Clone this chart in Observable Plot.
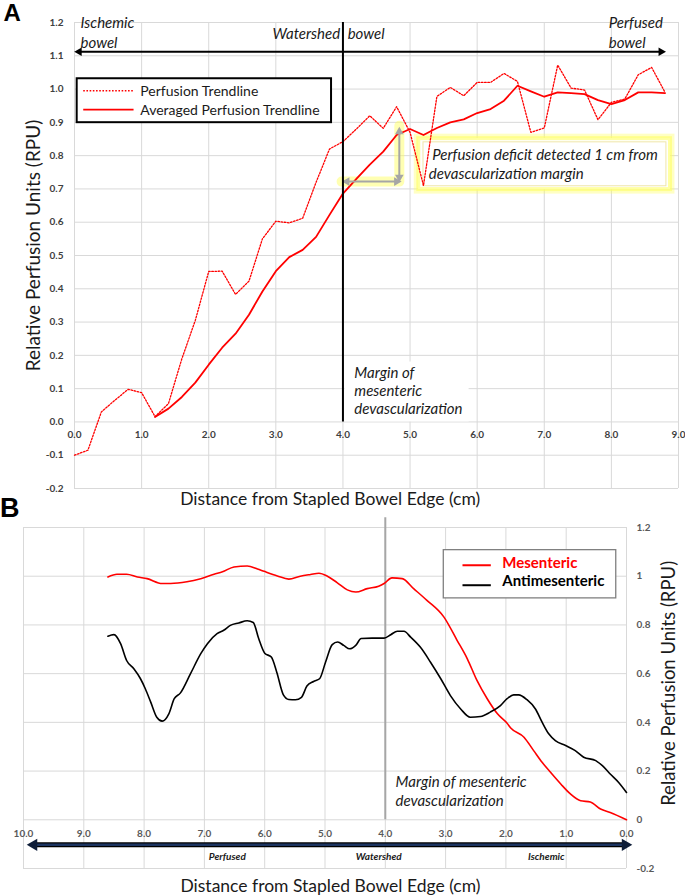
<!DOCTYPE html>
<html><head><meta charset="utf-8">
<script src="https://cdn.jsdelivr.net/npm/d3@7"></script>
<script src="https://cdn.jsdelivr.net/npm/@observablehq/plot@0.6"></script>
<style>
body{margin:0;background:#fff;}
#chart{width:685px;height:896px;position:relative;overflow:hidden;}
#chart svg{display:block;}
</style></head><body><div id="chart"></div>
<script>
// ---------- Panel A data ----------
const distA = [0.0,0.2,0.4,0.6,0.8,1.0,1.2,1.4,1.6,1.8,2.0,2.2,2.4,2.6,2.8,3.0,3.2,3.4,3.6,3.8,4.0,4.2,4.4,4.6,4.8,5.0,5.2,5.4,5.6,5.8,6.0,6.2,6.4,6.6,6.8,7.0,7.2,7.4,7.6,7.8,8.0,8.2,8.4,8.6,8.8];
const perfusionA = [-0.100,-0.085,0.030,0.065,0.098,0.088,0.016,0.055,0.190,0.305,0.452,0.453,0.383,0.423,0.550,0.603,0.598,0.612,0.720,0.820,0.842,0.880,0.920,0.882,0.947,0.870,0.710,0.978,1.005,0.980,1.020,1.020,1.047,1.023,0.870,0.883,1.072,1.003,0.997,0.908,0.960,0.970,1.043,1.065,0.990];
const distAvgA = [1.2,1.4,1.6,1.8,2.0,2.2,2.4,2.6,2.8,3.0,3.2,3.4,3.6,3.8,4.0,4.2,4.4,4.6,4.8,5.0,5.2,5.4,5.6,5.8,6.0,6.2,6.4,6.6,6.8,7.0,7.2,7.4,7.6,7.8,8.0,8.2,8.4,8.6,8.8];
const averagedA = [0.015,0.040,0.075,0.118,0.172,0.223,0.265,0.322,0.392,0.453,0.495,0.517,0.556,0.622,0.686,0.730,0.773,0.812,0.862,0.880,0.862,0.883,0.900,0.909,0.928,0.940,0.965,1.010,0.993,0.977,0.990,0.988,0.985,0.967,0.955,0.967,0.990,0.990,0.988];
const xTicksA = [0,1,2,3,4,5,6,7,8,9];
const yTicksA = [-0.2,-0.1,0.0,0.1,0.2,0.3,0.4,0.5,0.6,0.7,0.8,0.9,1.0,1.1,1.2];
const seriesNamesA = ["Perfusion Trendline","Averaged Perfusion Trendline"];

// ---------- Panel B data ----------
const distMesB = [8.60,8.45,8.29,8.11,7.95,7.70,7.56,7.29,7.06,6.84,6.70,6.51,6.29,6.12,6.01,5.79,5.60,5.41,5.24,5.10,4.96,4.80,4.63,4.49,4.30,4.11,4.02,3.89,3.72,3.53,3.31,3.03,2.81,2.64,2.48,2.31,2.14,1.98,1.92,1.70,1.54,1.40,1.26,1.09,0.93,0.76,0.60,0.43,0.27,0.00];
const mesentericB = [0.997,1.008,1.008,0.997,0.990,0.970,0.970,0.977,0.990,1.008,1.018,1.038,1.042,1.030,1.020,1.001,0.988,1.000,1.007,1.012,1.000,0.974,0.944,0.935,0.949,0.959,0.970,0.993,0.990,0.949,0.901,0.833,0.737,0.661,0.572,0.497,0.435,0.396,0.377,0.339,0.284,0.236,0.195,0.147,0.106,0.078,0.073,0.044,0.030,0.000];
const distAntiB = [8.60,8.50,8.39,8.29,8.17,8.06,7.98,7.89,7.79,7.70,7.59,7.50,7.40,7.23,7.06,6.95,6.79,6.68,6.57,6.43,6.29,6.19,6.10,6.00,5.89,5.80,5.69,5.60,5.49,5.39,5.30,5.19,5.09,4.99,4.88,4.79,4.69,4.59,4.49,4.40,4.22,4.02,3.91,3.80,3.69,3.58,3.42,3.25,3.08,2.92,2.75,2.59,2.42,2.26,2.09,1.98,1.87,1.79,1.65,1.51,1.40,1.29,1.18,1.01,0.85,0.71,0.51,0.40,0.27,0.13,0.00];
const antimesentericB = [0.754,0.760,0.723,0.654,0.620,0.579,0.538,0.483,0.421,0.405,0.435,0.497,0.520,0.600,0.682,0.723,0.764,0.778,0.798,0.808,0.817,0.810,0.744,0.684,0.668,0.606,0.513,0.494,0.493,0.503,0.549,0.568,0.579,0.648,0.719,0.730,0.716,0.702,0.716,0.744,0.746,0.746,0.760,0.774,0.774,0.750,0.709,0.647,0.579,0.510,0.455,0.421,0.424,0.442,0.469,0.497,0.513,0.513,0.493,0.455,0.401,0.353,0.325,0.305,0.284,0.257,0.243,0.222,0.188,0.153,0.112];
const xTicksB = [10,9,8,7,6,5,4,3,2,1,0];
const yTicksB = [1.2,1.0,0.8,0.6,0.4,0.2,0.0,-0.2];
const yTickLabelsB = ["1.2","1","0.8","0.6","0.4","0.2","0","-0.2"];
const seriesNamesB = ["Mesenteric","Antimesenteric"];
const zoneNamesB = ["Perfused","Watershed","Ischemic"];

const FONT = "Lato, 'Open Sans', sans-serif";
const RED = "#ff0000";
const tri = (pts, rot, r, fill) => Plot.dot(pts, {x:"x", y:"y", symbol:"triangle", r, fill, stroke:null, rotate: rot});

// ---------- Panel A ----------
const annA = [
  {t:"Ischemic", x:0.09, y:1.199}, {t:"bowel", x:0.09, y:1.139},
  {t:"Watershed", x:2.95, y:1.166}, {t:"bowel", x:4.07, y:1.166},
  {t:"Perfused", x:7.96, y:1.199}, {t:"bowel", x:7.96, y:1.139},
  {t:"Margin of", x:4.17, y:0.145}, {t:"mesenteric", x:4.17, y:0.091}, {t:"devascularization", x:4.17, y:0.037},
  {t:"Perfusion deficit detected 1 cm from", x:5.33, y:0.800}, {t:"devascularization margin", x:5.28, y:0.743}
];
const plotA = Plot.plot({
  width: 685, height: 510,
  marginLeft: 74, marginRight: 7, marginTop: 22, marginBottom: 22,
  x: {domain: [0, 9], axis: null},
  y: {domain: [-0.2, 1.2], axis: null},
  style: {fontFamily: FONT, background: "transparent", overflow: "visible"},
  marks: [
    Plot.gridX(xTicksA, {stroke: "#d9d9d9", strokeOpacity: 1}),
    Plot.gridY(yTicksA, {stroke: "#d9d9d9", strokeOpacity: 1}),
    // white box behind margin label
    Plot.rect([{x1:4.03, x2:5.88, y1:0.0, y2:0.18}], {x1:"x1", x2:"x2", y1:"y1", y2:"y2", fill:"white"}),
    // highlighted text box
    Plot.rect([{x1:5.13, x2:8.88, y1:0.698, y2:0.851}], {x1:"x1", x2:"x2", y1:"y1", y2:"y2", fill:"white", stroke:"#ffff55", strokeWidth:9, strokeOpacity:0.35}),
    Plot.rect([{x1:5.13, x2:8.88, y1:0.698, y2:0.851}], {x1:"x1", x2:"x2", y1:"y1", y2:"y2", fill:"white", stroke:"#ffff66", strokeWidth:4, strokeOpacity:0.6}),
    Plot.rect([{x1:5.2, x2:8.82, y1:0.708, y2:0.840}], {x1:"x1", x2:"x2", y1:"y1", y2:"y2", fill:"white", stroke:"#efe6a8", strokeWidth:1}),
    // L-shaped highlight glow
    Plot.line([{x:3.98,y:0.722},{x:4.84,y:0.722},{x:4.84,y:0.89}], {x:"x", y:"y", stroke:"#ffff55", strokeWidth:10, strokeOpacity:0.45}),
    // series
    Plot.lineY(perfusionA, {x: distA, stroke: RED, strokeWidth: 1.3, strokeDasharray: "1.6,1.6"}),
    Plot.lineY(averagedA, {x: distAvgA, stroke: RED, strokeWidth: 1.8}),
    // gray arrows
    Plot.link([{x1:4.05,x2:4.8,y1:0.722,y2:0.722},{x1:4.84,x2:4.84,y1:0.735,y2:0.87}], {x1:"x1",x2:"x2",y1:"y1",y2:"y2", stroke:"#a6a6a6", strokeWidth:2}),
    tri([{x:4.06,y:0.722}], -90, 3.2, "#a6a6a6"),
    tri([{x:4.80,y:0.722}], 90, 3.2, "#a6a6a6"),
    tri([{x:4.84,y:0.872}], 0, 3.2, "#a6a6a6"),
    tri([{x:4.84,y:0.735}], 180, 3.2, "#a6a6a6"),
    // vertical margin line
    Plot.ruleX([4], {y1: 0, y2: 1.2, stroke: "black", strokeWidth: 2}),
    // double arrow across top
    Plot.link([{x1:0.05, x2:8.75, y:1.112}], {x1:"x1", x2:"x2", y1:"y", y2:"y", stroke:"black", strokeWidth:2}),
    tri([{x:0.07,y:1.112}], -90, 3.2, "black"),
    tri([{x:8.74,y:1.112}], 90, 3.2, "black"),
    // legend
    Plot.rect([{x1:0.04, x2:3.83, y1:0.899, y2:1.031}], {x1:"x1", x2:"x2", y1:"y1", y2:"y2", fill:"white", stroke:"black", strokeWidth:2}),
    Plot.link([{x1:0.13, x2:0.88, y:0.995}], {x1:"x1", x2:"x2", y1:"y", y2:"y", stroke:RED, strokeWidth:1.3, strokeDasharray:"1.6,1.6"}),
    Plot.link([{x1:0.13, x2:0.88, y:0.938}], {x1:"x1", x2:"x2", y1:"y", y2:"y", stroke:RED, strokeWidth:1.8}),
    Plot.text(seriesNamesA, {x: 0.98, y: [0.992, 0.935], text: d => d, textAnchor:"start", fontSize: 14, fill:"#1a1a1a"}),
    // annotations
    Plot.text(annA, {x:"x", y:"y", text:"t", textAnchor:"start", fontStyle:"italic", fontSize:15, fill:"#1a1a1a"}),
    // tick labels
    Plot.text(yTicksA, {x: 0, y: d => d, text: d => d.toFixed(1), textAnchor: "end", dx: -11, fontSize: 10, fontWeight: "bold", fill: "#404040"}),
    Plot.text(xTicksA, {x: d => d, y: 0, text: d => d.toFixed(1), dy: 13, fontSize: 10, fontWeight: "bold", fill: "#404040"}),
    // axis titles
    Plot.text(["Relative Perfusion Units (RPU)"], {x: -0.61, y: 0.53, rotate: -90, fontSize: 19, fill: "#1a1a1a"}),
    Plot.text(["Distance from Stapled Bowel Edge (cm)"], {x: 3.81, y: -0.233, fontSize: 17.5, fill: "#1a1a1a"}),
    Plot.text(["A"], {x: -0.93, y: 1.2, dy: -9, fontSize: 24, fontWeight: "bold", fontFamily: "Liberation Sans, Arial, sans-serif", fill: "black"})
  ]
});

// ---------- Panel B ----------
const plotB = Plot.plot({
  width: 685, height: 386,
  marginLeft: 23, marginRight: 59, marginTop: 17, marginBottom: 28,
  x: {domain: [10, 0], axis: null},
  y: {domain: [-0.2, 1.2], axis: null},
  style: {fontFamily: FONT, background: "transparent", overflow: "visible"},
  marks: [
    Plot.gridX(xTicksB, {stroke: "#d9d9d9", strokeOpacity: 1}),
    Plot.gridY(yTicksB, {stroke: "#d9d9d9", strokeOpacity: 1}),
    Plot.ruleX([4], {y1: 0, y2: 1.24, stroke: "#a6a6a6", strokeWidth: 2}),
    Plot.lineY(mesentericB, {x: distMesB, stroke: RED, strokeWidth: 1.6, curve: "monotone-x"}),
    Plot.lineY(antimesentericB, {x: distAntiB, stroke: "black", strokeWidth: 1.6, curve: "monotone-x"}),
    // legend
    Plot.rect([{x1:3.03, x2:0.17, y1:0.909, y2:1.107}], {x1:"x1", x2:"x2", y1:"y1", y2:"y2", fill:"white", stroke:"#808080", strokeWidth:1.3}),
    Plot.link([{x1:2.72, x2:2.25, y:1.045}], {x1:"x1", x2:"x2", y1:"y", y2:"y", stroke:RED, strokeWidth:2}),
    Plot.link([{x1:2.72, x2:2.25, y:0.963}], {x1:"x1", x2:"x2", y1:"y", y2:"y", stroke:"black", strokeWidth:2}),
    Plot.text(seriesNamesB, {x: 2.06, y: [1.055, 0.981], text: d => d, textAnchor: "start", fontSize: 15, fontWeight: "bold", fill: [RED, "black"]}),
    // margin annotation
    Plot.text(["Margin of mesenteric", "devascularization"], {x: 3.83, y: [0.154, 0.078], text: d => d, textAnchor: "start", fontStyle: "italic", fontSize: 15, fill: "#1a1a1a"}),
    // bottom double arrow
    Plot.link([{x1:9.8, x2:0.05, y:-0.103}], {x1:"x1", x2:"x2", y1:"y", y2:"y", stroke:"#000000", strokeWidth:5}),
    Plot.link([{x1:9.8, x2:0.05, y:-0.103}], {x1:"x1", x2:"x2", y1:"y", y2:"y", stroke:"#1c3461", strokeWidth:2.5}),
    tri([{x:9.83,y:-0.103}], -90, 4.5, "#0e1d38"),
    tri([{x:0.02,y:-0.103}], 90, 4.5, "#0e1d38"),
    Plot.text(zoneNamesB, {x: [6.62, 4.11, 1.33], y: -0.151, text: d => d, fontSize: 10, fontWeight: "bold", fontStyle: "italic", fill: "#1a1a1a"}),
    // tick labels
    Plot.text(yTicksB, {x: 0, y: d => d, text: (d, i) => yTickLabelsB[i], textAnchor: "start", dx: 10, fontSize: 10, fontWeight: "bold", fill: "#595959"}),
    Plot.text(xTicksB, {x: d => d, y: 0, text: d => d.toFixed(1), dy: 14, fontSize: 10, fontWeight: "bold", fill: "#595959"}),
    // axis titles
    Plot.text(["Relative Perfusion Units (RPU)"], {x: -0.70, y: 0.56, rotate: -90, fontSize: 18.5, fill: "#1a1a1a"}),
    Plot.text(["Distance from Stapled Bowel Edge (cm)"], {x: 4.91, y: -0.272, fontSize: 17.5, fill: "#1a1a1a"}),
    Plot.text(["B"], {x: 10.23, y: 1.28, fontSize: 27, fontWeight: "bold", fontFamily: "Liberation Sans, Arial, sans-serif", fill: "black"})
  ]
});

const root = document.getElementById("chart");
root.appendChild(plotA);
root.appendChild(plotB);
</script></body></html>
